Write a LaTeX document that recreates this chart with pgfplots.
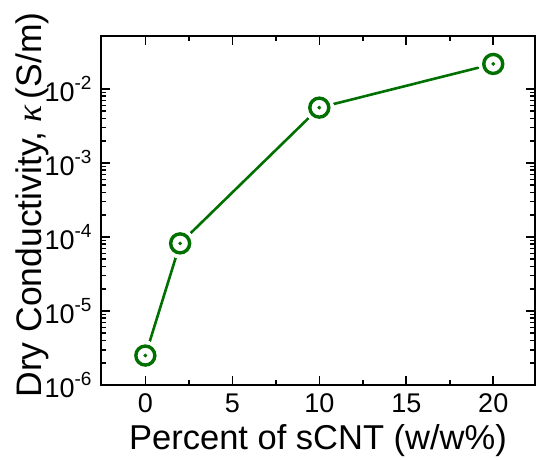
\documentclass[border=0pt]{standalone}
\usepackage{fontspec}
\setmainfont{Liberation Sans}
\newfontfamily\serifit{Liberation Serif}
\usepackage{pgfplots}
\pgfplotsset{compat=1.18}
\definecolor{dgreen}{RGB}{0,112,0}
\newcommand{\tenpow}[1]{10\raisebox{0.42em}{\fontsize{19}{19}\selectfont #1}}
\pgfplotstableread{
x y
0 2.5e-6
2 8.2e-5
10 5.6e-3
20 2.18e-2
}\datatab
\begin{document}
\begin{tikzpicture}
\useasboundingbox (-101pt,-74pt) rectangle (435pt,385pt);
\begin{semilogyaxis}[
  at={(0pt,0pt)}, anchor=south west,
  scale only axis, width=434pt, height=349pt,
  xmin=-2.55, xmax=22.4, ymin=1e-6, ymax=5.2e-2,
  axis line style={line width=2pt},
  every tick/.style={black, line width=1.6pt},
  tick align=inside, tick pos=both,
  major tick length=9pt, minor tick length=5pt,
  xtick={0,5,10,15,20}, minor x tick num=1,
  ytick={1e-6,1e-5,1e-4,1e-3,1e-2},
  yticklabels={\tenpow{-6},\tenpow{-5},\tenpow{-4},\tenpow{-3},\tenpow{-2}},
  /pgf/number format/assume math mode=true,
  tick label style={font=\fontsize{27}{30}\selectfont},
  xticklabel style={yshift=-5pt},
  yticklabel style={xshift=-6pt},
  xlabel={Percent of sCNT (w/w\%)},
  ylabel={Dry Conductivity, {\serifit\itshape κ}\,(S/m)},
  xlabel style={font=\fontsize{34.5}{38}\selectfont, anchor=base, at={(axis description cs:0.5,0)}, yshift=-64pt},
  ylabel style={font=\fontsize{35.5}{38}\selectfont, anchor=base, rotate=0, at={(axis description cs:-0.136,0.516)}},
]
\addplot[dgreen, line width=2.6pt] table[x=x,y=y] {\datatab};
\addplot[only marks, mark=*, mark size=14.5pt, mark options={fill=white, draw=white, line width=0pt}] table[x=x,y=y] {\datatab};
\addplot[only marks, mark=o, mark size=9.5pt, mark options={draw=dgreen, line width=3.4pt}] table[x=x,y=y] {\datatab};
\addplot[only marks, mark=*, mark size=1.7pt, mark options={fill=dgreen, draw=dgreen}] table[x=x,y=y] {\datatab};
\end{semilogyaxis}
\end{tikzpicture}
\end{document}
